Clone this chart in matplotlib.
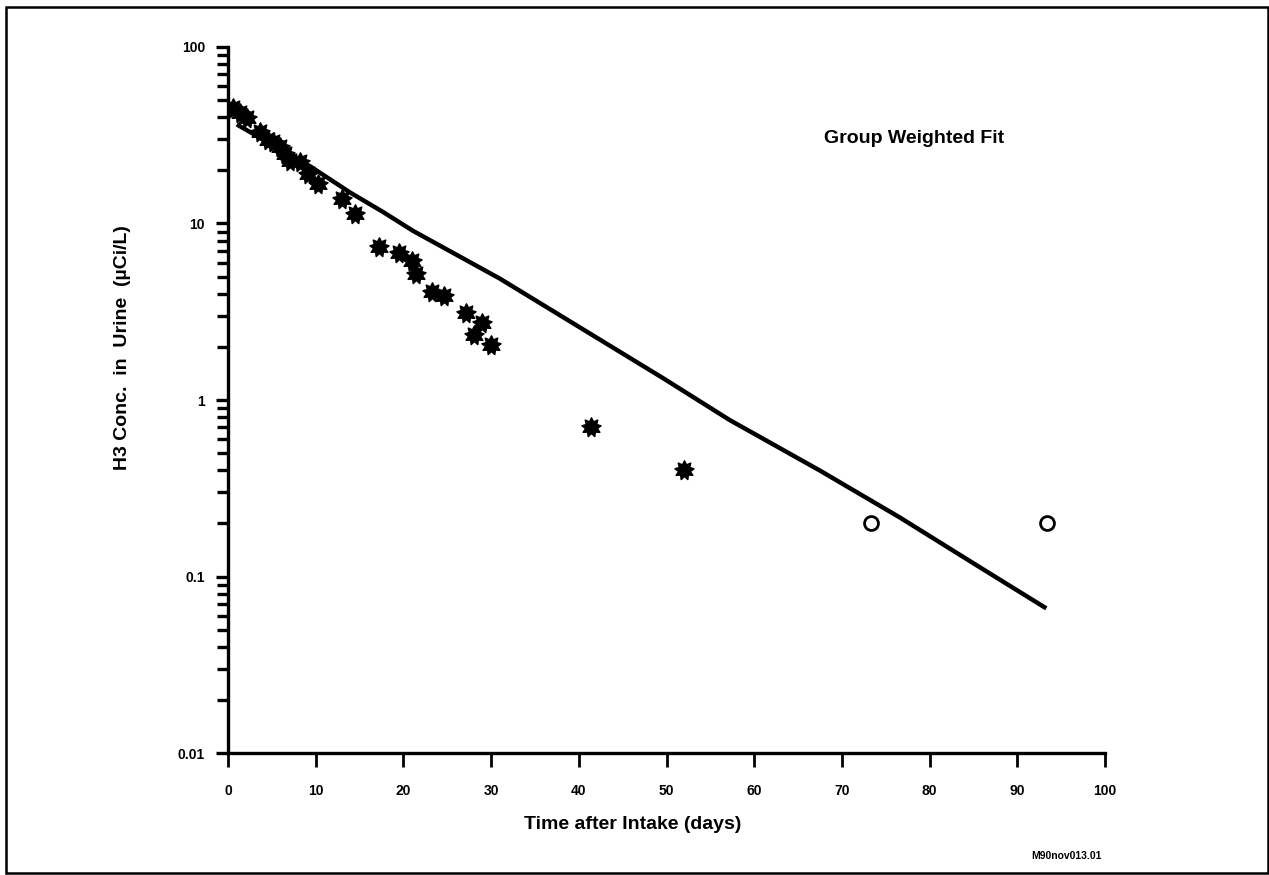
import matplotlib
matplotlib.use("Agg")
import matplotlib.pyplot as plt
import matplotlib.ticker as mticker
from matplotlib.path import Path
from matplotlib.patches import Rectangle
import numpy as np

plt.rcParams["font.family"] = ["Liberation Sans", "DejaVu Sans"]
plt.rcParams["font.weight"] = "bold"

# Målte urinkonsentrasjoner (stjerner)
days = [0.6, 1.4, 2.2, 3.6, 4.5, 5.1, 5.9, 6.5, 7.1, 8.2, 9.1, 10.3,
        13.0, 14.5, 17.2, 19.5, 21.0, 21.4, 23.3, 24.6, 27.1, 29.0, 28.1, 30.0,
        41.4, 52.0]
conc = [45.3, 42.5, 39.8, 32.8, 29.9, 28.8, 27.0, 24.6, 22.5, 22.2, 19.0, 16.7,
        13.7, 11.3, 7.4, 6.8, 6.1, 5.2, 4.1, 3.9, 3.13, 2.72, 2.35, 2.04,
        0.70, 0.40]

# Verdier ved deteksjonsgrensen (åpne sirkler)
days_dl = [73.3, 93.4]
conc_dl = [0.2, 0.2]

# Gruppevektet tilpasning
fit_days = [1.0, 9.35, 13.9, 17.7, 21.1, 31.0, 49.6, 57.2, 67.5, 76.6, 85.7, 93.3]
fit_conc = [36.4, 21.1, 15.0, 11.6, 9.08, 4.87, 1.33, 0.77, 0.398, 0.216, 0.113, 0.066]

x_ticks = list(range(0, 101, 10))
y_ticks = [0.01, 0.1, 1, 10, 100]
y_tick_labels = ["0.01", "0.1", "1", "10", "100"]

# Stjernemarkør med mange korte takker
n_pts = 9
ang = np.linspace(0, 2 * np.pi, 2 * n_pts, endpoint=False) + np.pi / 2
rad = np.where(np.arange(2 * n_pts) % 2 == 0, 1.0, 0.62)
verts = np.column_stack([rad * np.cos(ang), rad * np.sin(ang)])
verts = np.vstack([verts, verts[:1]])
codes = [Path.MOVETO] + [Path.LINETO] * (len(verts) - 2) + [Path.CLOSEPOLY]
sun = Path(verts, codes)

fig = plt.figure(figsize=(12.69, 8.75), dpi=100)
ax = fig.add_axes([0.1797, 0.1394, 0.6911, 0.8069])

ax.plot(fit_days, fit_conc, color="black", lw=3.2, solid_capstyle="butt")
ax.plot(days, conc, ls="none", marker=sun, ms=14, color="black")
ax.plot(days_dl, conc_dl, ls="none", marker="o", ms=10, mfc="white",
        mec="black", mew=2)

ax.set_yscale("log")
ax.set_xlim(0, 100)
ax.set_ylim(0.01, 100)
ax.set_xticks(x_ticks)
ax.xaxis.set_major_formatter(mticker.FixedFormatter([str(t) for t in x_ticks]))
ax.yaxis.set_major_locator(mticker.FixedLocator(y_ticks))
ax.yaxis.set_major_formatter(mticker.FixedFormatter(y_tick_labels))
ax.yaxis.set_minor_locator(mticker.LogLocator(base=10, subs=range(2, 10)))
ax.yaxis.set_minor_formatter(mticker.NullFormatter())
ax.xaxis.set_minor_locator(mticker.NullLocator())

for side in ["top", "right"]:
    ax.spines[side].set_visible(False)
for side in ["left", "bottom"]:
    ax.spines[side].set_linewidth(2.4)

ax.tick_params(axis="x", direction="out", length=10, width=2, pad=12,
               labelsize=10)
ax.tick_params(axis="y", which="major", direction="out", length=9, width=2.4,
               pad=7.5, labelsize=10)
ax.tick_params(axis="y", which="minor", direction="out", length=8, width=2.4)
for lbl in ax.get_xticklabels() + ax.get_yticklabels():
    lbl.set_fontweight("bold")

ax.set_xlabel("Time after Intake (days)", fontsize=14, fontweight="bold")
ax.xaxis.set_label_coords(0.461, -0.089)
ax.set_ylabel("H3 Conc.  in  Urine  (\u00b5Ci/L)", fontsize=14,
              fontweight="bold")
ax.yaxis.set_label_coords(-0.111, 0.574)

ax.text(0.782, 0.871, "Group Weighted Fit", transform=ax.transAxes,
        ha="center", va="center", fontsize=14, fontweight="bold")
fig.text(0.84, 0.022, "M90nov013.01", ha="center", va="center",
         fontsize=7.5, fontweight="bold")

# Ramme rundt hele figuren
fig.patches.append(Rectangle((0.005, 0.002), 0.994, 0.99, transform=fig.transFigure,
                             fill=False, edgecolor="black", lw=1.8))

fig.savefig("out.png", dpi=100)
